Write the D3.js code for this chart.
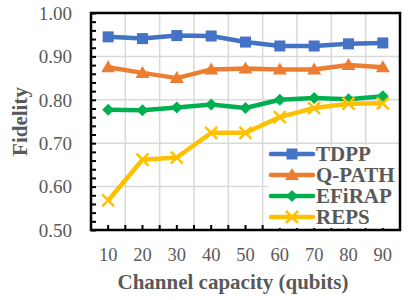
<!DOCTYPE html>
<html>
<head>
<meta charset="utf-8">
<script src="https://cdn.jsdelivr.net/npm/d3@7"></script>
<style>
  body { margin: 0; background: #fff; }
  text { font-family: "Liberation Serif", "Times New Roman", serif; fill: #595959; }
</style>
</head>
<body>
<div id="chart"></div>
<script>
var capacities = [10, 20, 30, 40, 50, 60, 70, 80, 90];
var tdpp   = [0.945, 0.941, 0.948, 0.947, 0.933, 0.924, 0.924, 0.929, 0.931];
var qpath  = [0.875, 0.862, 0.850, 0.870, 0.872, 0.870, 0.870, 0.880, 0.875];
var efirap = [0.777, 0.776, 0.782, 0.789, 0.781, 0.800, 0.804, 0.801, 0.808];
var reps   = [0.568, 0.662, 0.667, 0.724, 0.724, 0.760, 0.781, 0.791, 0.792];
var yTicks = [0.5, 0.6, 0.7, 0.8, 0.9, 1.0];

var series = [
    { name: "TDPP",   values: tdpp,   color: "#4472C4", marker: "square" },
    { name: "Q-PATH", values: qpath,  color: "#ED7D31", marker: "triangle" },
    { name: "EFiRAP", values: efirap, color: "#00B050", marker: "diamond" },
    { name: "REPS",   values: reps,   color: "#FFC000", marker: "cross" }
];

var W = 411, H = 300;
var pLeft = 91, pRight = 400, pTop = 13, pBottom = 230;

var svg = d3.select("#chart").append("svg")
    .attr("width", W)
    .attr("height", H);

var x = d3.scaleBand().domain(capacities).range([pLeft, pRight]).padding(0);
var y = d3.scaleLinear().domain([0.5, 1.0]).range([pBottom, pTop]);
var cx = function (c) { return x(c) + x.bandwidth() / 2; };

// gridlines
var vgrid = capacities.slice(1).map(function (c) { return x(c); });
svg.append("g").selectAll("line").data(vgrid).enter().append("line")
    .attr("x1", function (d) { return d; })
    .attr("x2", function (d) { return d; })
    .attr("y1", pTop).attr("y2", pBottom)
    .attr("stroke", "#d9d9d9").attr("stroke-width", 1.5);
svg.append("g").selectAll("line").data(yTicks.slice(1, -1)).enter().append("line")
    .attr("x1", pLeft).attr("x2", pRight)
    .attr("y1", function (d) { return y(d); })
    .attr("y2", function (d) { return y(d); })
    .attr("stroke", "#d9d9d9").attr("stroke-width", 1.5);

// y labels
var yAxis = svg.append("g")
    .attr("transform", "translate(" + (pLeft - 19) + ",0)")
    .call(d3.axisLeft(y).tickValues(yTicks).tickSize(0).tickFormat(d3.format(".2f")));
yAxis.select(".domain").remove();
yAxis.selectAll("text").style("font-size", "19px").attr("dy", "0.33em").attr("x", 0);

// minor inner ticks on y axis
var yMinor = d3.range(0, 26).map(function (i) { return 0.5 + i * 0.02; });
var yt = svg.append("g")
    .attr("transform", "translate(" + pLeft + ",0)")
    .call(d3.axisRight(y).tickValues(yMinor).tickSize(5).tickFormat(""));
yt.select(".domain").remove();
yt.selectAll("line").attr("stroke", "#000").attr("stroke-width", 2);

// x labels
var xAxis = svg.append("g")
    .attr("transform", "translate(0," + pBottom + ")")
    .call(d3.axisBottom(x).tickSize(0).tickPadding(18));
xAxis.select(".domain").remove();
xAxis.selectAll("text").style("font-size", "18.5px");

// x inner ticks at centers and boundaries
var xTickPos = [];
capacities.forEach(function (c, i) {
    if (i > 0) xTickPos.push(x(c));
    xTickPos.push(cx(c));
});
svg.append("g").selectAll("line").data(xTickPos).enter().append("line")
    .attr("x1", function (d) { return d; })
    .attr("x2", function (d) { return d; })
    .attr("y1", pBottom).attr("y2", pBottom - 5)
    .attr("stroke", "#000").attr("stroke-width", 2);

// frame
svg.append("rect")
    .attr("x", pLeft).attr("y", pTop)
    .attr("width", pRight - pLeft).attr("height", pBottom - pTop)
    .attr("fill", "none").attr("stroke", "#000").attr("stroke-width", 2.5);

function drawMarker(g, type, color, px, py) {
    if (type === "square") {
        g.append("rect").attr("x", px - 5.5).attr("y", py - 5.5)
            .attr("width", 11).attr("height", 11).attr("fill", color);
    } else if (type === "triangle") {
        g.append("path")
            .attr("d", "M" + px + "," + (py - 7) + "L" + (px + 7) + "," + (py + 5) + "L" + (px - 7) + "," + (py + 5) + "Z")
            .attr("fill", color);
    } else if (type === "diamond") {
        g.append("path")
            .attr("d", "M" + px + "," + (py - 6) + "L" + (px + 6) + "," + py + "L" + px + "," + (py + 6) + "L" + (px - 6) + "," + py + "Z")
            .attr("fill", color);
    } else {
        g.append("path")
            .attr("d", "M" + (px - 6) + "," + (py - 6) + "L" + (px + 6) + "," + (py + 6) + "M" + (px + 6) + "," + (py - 6) + "L" + (px - 6) + "," + (py + 6))
            .attr("stroke", color).attr("stroke-width", 2.5).attr("fill", "none");
    }
}

var line = d3.line()
    .x(function (d, i) { return cx(capacities[i]); })
    .y(function (d) { return y(d); });

series.forEach(function (s) {
    var g = svg.append("g");
    g.append("path").datum(s.values)
        .attr("d", line)
        .attr("fill", "none")
        .attr("stroke", s.color)
        .attr("stroke-width", 4.5)
        .attr("stroke-linejoin", "round");
    s.values.forEach(function (v, i) {
        drawMarker(g, s.marker, s.color, cx(capacities[i]), y(v));
    });
});

// legend
var lg = svg.append("g");
lg.append("rect").attr("x", 268).attr("y", 145).attr("width", 130).attr("height", 83).attr("fill", "#fff");
series.forEach(function (s, i) {
    var ly = 154 + i * 21;
    lg.append("line").attr("x1", 271).attr("x2", 313).attr("y1", ly).attr("y2", ly)
        .attr("stroke", s.color).attr("stroke-width", 4.5).attr("stroke-linecap", "round");
    drawMarker(lg, s.marker, s.color, 292, ly);
    lg.append("text").attr("x", 316).attr("y", ly).attr("dy", "0.35em")
        .style("font-size", "21px").style("font-weight", "bold").text(s.name);
});

// axis titles
svg.append("text")
    .attr("x", 233).attr("y", 289)
    .attr("text-anchor", "middle")
    .style("font-size", "21px").style("font-weight", "bold")
    .text("Channel capacity (qubits)");

svg.append("text")
    .attr("transform", "translate(27," + ((pTop + pBottom) / 2) + ") rotate(-90)")
    .attr("text-anchor", "middle")
    .style("font-size", "21px").style("font-weight", "bold")
    .text("Fidelity");
</script>
</body>
</html>
